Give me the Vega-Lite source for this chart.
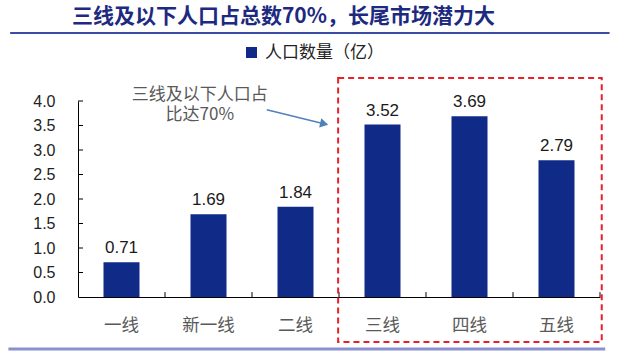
{
  "$schema": "https://vega.github.io/schema/vega-lite/v6.json",
  "width": 522,
  "height": 196,
  "autosize": {"type": "none"},
  "padding": {"left": 78, "top": 101, "right": 17, "bottom": 60},
  "background": "#ffffff",
  "config": {"view": {"stroke": null}, "font": "Liberation Sans"},
  "resolve": {"scale": {"x": "independent"}, "axis": {"x": "independent", "y": "independent"}},
  "layer": [
    {
      "data": {"values": [
        {"city": "一线", "pop": 0.71, "series": "人口数量（亿）"},
        {"city": "新一线", "pop": 1.69, "series": "人口数量（亿）"},
        {"city": "二线", "pop": 1.84, "series": "人口数量（亿）"},
        {"city": "三线", "pop": 3.52, "series": "人口数量（亿）"},
        {"city": "四线", "pop": 3.69, "series": "人口数量（亿）"},
        {"city": "五线", "pop": 2.79, "series": "人口数量（亿）"}
      ]},
      "encoding": {
        "x": {"field": "city", "type": "nominal", "sort": null,
          "scale": {"paddingInner": 0.586, "paddingOuter": 0.293},
          "axis": {"title": null, "labelAngle": 0, "ticks": false, "domainColor": "#000", "labelFont": "Noto Sans CJK SC", "labelFontSize": 17.5, "labelColor": "#595959", "labelPadding": 19}},
        "y": {"field": "pop", "type": "quantitative", "scale": {"domain": [0, 4], "nice": false, "zero": true},
          "axis": {"title": null, "grid": false, "values": [0, 0.5, 1, 1.5, 2, 2.5, 3, 3.5, 4], "format": ".1f", "ticks": false, "labelOverlap": false, "domainColor": "#000", "labelFont": "Liberation Sans", "labelFontSize": 16, "labelColor": "#222", "labelPadding": 23}}
      },
      "layer": [
        {
          "mark": {"type": "bar"},
          "encoding": {
            "color": {"field": "series", "type": "nominal", "scale": {"range": ["#102A88"]},
              "legend": {"orient": "none", "legendX": 165, "legendY": -57, "title": null, "symbolType": "square", "symbolSize": 121, "symbolStrokeWidth": 0, "labelFont": "Noto Sans CJK SC", "labelFontSize": 17, "labelColor": "#222", "labelOffset": 5}}
          }
        },
        {
          "mark": {"type": "text", "baseline": "alphabetic", "dy": -9, "fontSize": 17, "font": "Liberation Sans", "color": "#1a1a1a"},
          "encoding": {"text": {"field": "pop", "type": "quantitative", "format": ".2f"}}
        }
      ]
    },
    {
      "data": {"values": [
        {"x": 0, "x2": 0.0575, "y": 0.5}, {"x": 0, "x2": 0.0575, "y": 1}, {"x": 0, "x2": 0.0575, "y": 1.5},
        {"x": 0, "x2": 0.0575, "y": 2}, {"x": 0, "x2": 0.0575, "y": 2.5}, {"x": 0, "x2": 0.0575, "y": 3},
        {"x": 0, "x2": 0.0575, "y": 3.5}, {"x": 0, "x2": 0.0575, "y": 4}
      ]},
      "mark": {"type": "rule", "color": "#000", "strokeWidth": 1},
      "encoding": {
        "x": {"field": "x", "type": "quantitative", "scale": {"domain": [0, 6], "nice": false, "zero": false}, "axis": null},
        "x2": {"field": "x2"},
        "y": {"field": "y", "type": "quantitative", "scale": {"domain": [0, 4], "nice": false}, "axis": null}
      }
    },
    {
      "data": {"values": [
        {"x": 1, "y": 0, "y2": 0.1}, {"x": 2, "y": 0, "y2": 0.1}, {"x": 3, "y": 0, "y2": 0.1},
        {"x": 4, "y": 0, "y2": 0.1}, {"x": 5, "y": 0, "y2": 0.1}, {"x": 6, "y": 0, "y2": 0.1}
      ]},
      "mark": {"type": "rule", "color": "#000", "strokeWidth": 1},
      "encoding": {
        "x": {"field": "x", "type": "quantitative", "scale": {"domain": [0, 6], "nice": false, "zero": false}, "axis": null},
        "y": {"field": "y", "type": "quantitative", "scale": {"domain": [0, 4], "nice": false}, "axis": null},
        "y2": {"field": "y2"}
      }
    },
    {
      "data": {"values": [{"x": 2.99, "x2": 6.02, "y": 4.47, "y2": -0.92}]},
      "mark": {"type": "rect", "fill": "transparent", "stroke": "#E8202A", "strokeDash": [6, 4], "strokeWidth": 2},
      "encoding": {
        "x": {"field": "x", "type": "quantitative", "scale": {"domain": [0, 6], "nice": false, "zero": false}, "axis": null},
        "x2": {"field": "x2"},
        "y": {"field": "y", "type": "quantitative", "scale": {"domain": [0, 4], "nice": false}, "axis": null},
        "y2": {"field": "y2"}
      }
    },
    {
      "data": {"values": [{"x": -0.78, "x2": 6.11, "y": 5.39}]},
      "mark": {"type": "rule", "color": "#3B4BA8", "strokeWidth": 2},
      "encoding": {
        "x": {"field": "x", "type": "quantitative", "scale": {"domain": [0, 6], "nice": false, "zero": false}, "axis": null},
        "x2": {"field": "x2"},
        "y": {"field": "y", "type": "quantitative", "scale": {"domain": [0, 4], "nice": false}, "axis": null}
      }
    },
    {
      "data": {"values": [{"x": -0.80, "x2": 6.06, "y": -1.06}]},
      "mark": {"type": "rule", "color": "#8A91CF", "strokeWidth": 3},
      "encoding": {
        "x": {"field": "x", "type": "quantitative", "scale": {"domain": [0, 6], "nice": false, "zero": false}, "axis": null},
        "x2": {"field": "x2"},
        "y": {"field": "y", "type": "quantitative", "scale": {"domain": [0, 4], "nice": false}, "axis": null}
      }
    },
    {
      "data": {"values": [{"x": -0.07, "y": 5.72, "t": "三线及以下人口占总数70%，长尾市场潜力大"}]},
      "mark": {"type": "text", "align": "left", "baseline": "middle", "font": "Noto Sans CJK SC", "fontSize": 21, "fontWeight": "bold", "color": "#1D2A80"},
      "encoding": {
        "x": {"field": "x", "type": "quantitative", "scale": {"domain": [0, 6], "nice": false, "zero": false}, "axis": null},
        "y": {"field": "y", "type": "quantitative", "scale": {"domain": [0, 4], "nice": false}, "axis": null},
        "text": {"field": "t"}
      }
    },
    {
      "data": {"values": [{"x": 1.40, "y": 4.12, "t": "三线及以下人口占"}, {"x": 1.40, "y": 3.71, "t": "比达70%"}]},
      "mark": {"type": "text", "align": "center", "baseline": "middle", "font": "Noto Sans CJK SC", "fontSize": 17, "color": "#595959"},
      "encoding": {
        "x": {"field": "x", "type": "quantitative", "scale": {"domain": [0, 6], "nice": false, "zero": false}, "axis": null},
        "y": {"field": "y", "type": "quantitative", "scale": {"domain": [0, 4], "nice": false}, "axis": null},
        "text": {"field": "t"}
      }
    },
    {
      "data": {"values": [{"x": 2.17, "y": 3.82, "o": 0}, {"x": 2.79, "y": 3.55, "o": 1}]},
      "mark": {"type": "line", "color": "#4F81BD", "strokeWidth": 1.5},
      "encoding": {
        "x": {"field": "x", "type": "quantitative", "scale": {"domain": [0, 6], "nice": false, "zero": false}, "axis": null},
        "y": {"field": "y", "type": "quantitative", "scale": {"domain": [0, 4], "nice": false}, "axis": null},
        "order": {"field": "o"}
      }
    },
    {
      "data": {"values": [{"x": 2.83, "y": 3.535}]},
      "mark": {"type": "point", "shape": "triangle-right", "filled": true, "color": "#4F81BD", "opacity": 1, "size": 90, "angle": 13},
      "encoding": {
        "x": {"field": "x", "type": "quantitative", "scale": {"domain": [0, 6], "nice": false, "zero": false}, "axis": null},
        "y": {"field": "y", "type": "quantitative", "scale": {"domain": [0, 4], "nice": false}, "axis": null}
      }
    }
  ]
}
